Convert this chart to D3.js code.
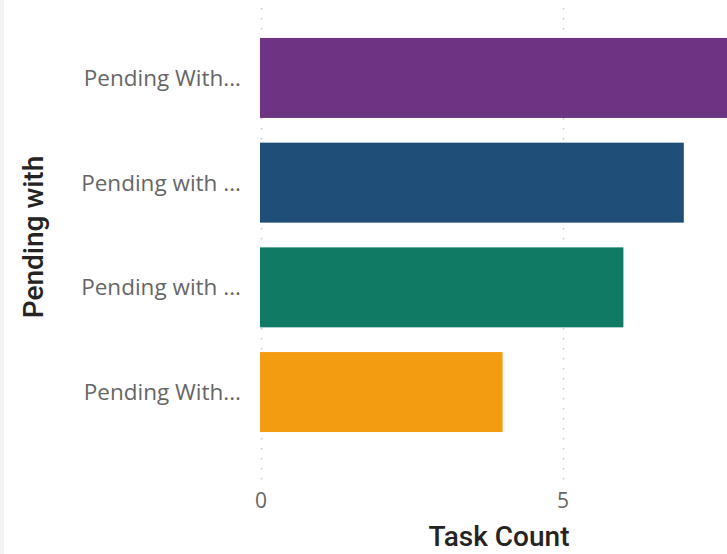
<!DOCTYPE html>
<html>
<head>
<meta charset="utf-8">
<script src="https://cdn.jsdelivr.net/npm/d3@7"></script>
<style>
  html, body { margin: 0; padding: 0; background: #fff; overflow: hidden; }
  svg { display: block; }
</style>
</head>
<body>
<div id="chart"></div>
<script>
// Chart data
var categories = ["Pending With...", "Pending with ...", "Pending with ...", "Pending With..."];
var taskCounts = [8, 7, 6, 4];
var barColors = ["#6c3483", "#1f4e79", "#117a65", "#f39c12"];
var xTicks = [0, 5];

var W = 727, H = 554;

var svg = d3.select("#chart")
  .append("svg")
  .attr("width", W)
  .attr("height", H);

// light strip at the left edge
svg.append("rect")
  .attr("x", 0).attr("y", 0)
  .attr("width", 4).attr("height", H)
  .attr("fill", "#f3f3f3");

var x = d3.scaleLinear()
  .domain([0, 10])
  .range([261, 865]);

var idx = categories.map((d, i) => i);
var y = d3.scaleBand()
  .domain(idx)
  .range([25.6, 444.4])
  .paddingInner(0.236)
  .paddingOuter(0.118);

// dotted gridlines
svg.append("g")
  .selectAll("line")
  .data(xTicks)
  .enter()
  .append("line")
  .attr("x1", d => x(d) + 0.5)
  .attr("x2", d => x(d) + 0.5)
  .attr("y1", 8)
  .attr("y2", 480)
  .attr("stroke", "#c8c8c8")
  .attr("stroke-width", 1.5)
  .attr("stroke-dasharray", "1.5,8.5");

// bars
svg.append("g")
  .selectAll("rect")
  .data(taskCounts)
  .enter()
  .append("rect")
  .attr("x", x(0) - 1)
  .attr("y", (d, i) => y(i))
  .attr("width", d => x(d) - x(0) + 1)
  .attr("height", y.bandwidth())
  .attr("fill", (d, i) => barColors[i]);

// category labels
svg.append("g")
  .selectAll("text")
  .data(categories)
  .enter()
  .append("text")
  .attr("x", 241)
  .attr("y", (d, i) => y(i) + y.bandwidth() / 2)
  .attr("dy", "0.35em")
  .attr("text-anchor", "end")
  .style("font-family", "'Open Sans', 'Noto Sans', sans-serif")
  .style("font-size", "22.5px")
  .style("fill", "#666666")
  .text(d => d);

// x tick labels
svg.append("g")
  .selectAll("text")
  .data(xTicks)
  .enter()
  .append("text")
  .attr("x", d => x(d))
  .attr("y", 508)
  .attr("text-anchor", "middle")
  .style("font-family", "'Open Sans', 'Noto Sans', sans-serif")
  .style("font-size", "21px")
  .style("fill", "#666666")
  .text(d => d);

// axis titles
svg.append("text")
  .attr("x", 499)
  .attr("y", 546)
  .attr("text-anchor", "middle")
  .style("font-family", "'Roboto', 'DejaVu Sans', sans-serif")
  .style("font-size", "28px")
  .style("font-weight", "500")
  .style("fill", "#252423")
  .text("Task Count");

svg.append("text")
  .attr("transform", "translate(43,237) rotate(-90)")
  .attr("text-anchor", "middle")
  .style("font-family", "'Roboto', 'DejaVu Sans', sans-serif")
  .style("font-size", "28px")
  .style("font-weight", "500")
  .style("fill", "#252423")
  .text("Pending with");
</script>
</body>
</html>
